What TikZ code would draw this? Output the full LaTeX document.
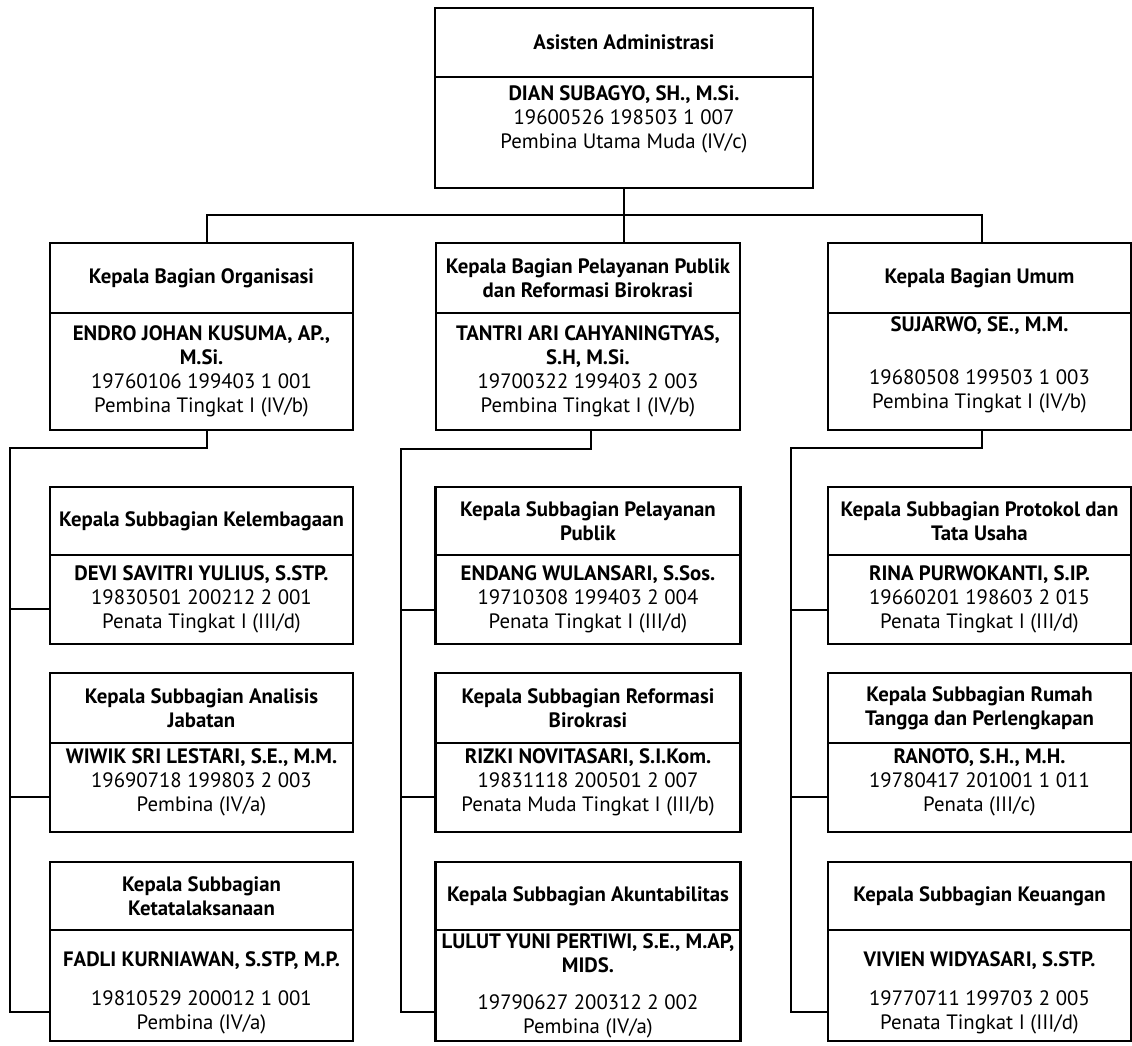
\documentclass[tikz,border=0pt]{standalone}
\usepackage{fontspec}
\setmainfont{PT Sans}
\usetikzlibrary{positioning}

\newcommand\toppad[1]{\rule{0pt}{#1}}
\newcommand\botpad[1]{\rule[-#1]{0pt}{#1}}

\begin{document}
\begin{tikzpicture}[x=1pt,y=1pt,
  box/.style={draw,line width=2.2pt,outer sep=0pt,inner sep=1pt,align=center,
              minimum width=303pt,font=\fontsize{20.8}{24}\selectfont},
  jabatan/.style={box,font=\fontsize{20.8}{24}\selectfont\bfseries},
  link/.style={line width=1.3pt}]

  \useasboundingbox (0,0) rectangle (1132,-1046);

  % asisten
  \node[jabatan,minimum width=378pt,minimum height=69pt] (asisten) at (624,-42.5)
    {Asisten Administrasi};
  \node[box,minimum width=378pt,minimum height=111pt] (asistenP) [below=0pt of asisten]
    {\textbf{DIAN SUBAGYO, SH., M.Si.}\\ 19600526 198503 1 007\\
     Pembina Utama Muda (IV/c)\botpad{30pt}};

  % kepala bagian
  \node[jabatan,minimum height=70pt] (org) at (201.5,-278) {Kepala Bagian Organisasi};
  \node[box,minimum height=117pt] (orgP) [below=0pt of org]
    {\textbf{ENDRO JOHAN KUSUMA, AP.,}\\ \textbf{M.Si.}\\ 19760106 199403 1 001\\
     Pembina Tingkat I (IV/b)};
  \node[jabatan,minimum width=304pt,minimum height=70pt] (pp) at (588,-278)
    {Kepala Bagian Pelayanan Publik\\ dan Reformasi Birokrasi};
  \node[box,minimum width=304pt,minimum height=117pt] (ppP) [below=0pt of pp]
    {\textbf{TANTRI ARI CAHYANINGTYAS,}\\ \textbf{S.H, M.Si.}\\ 19700322 199403 2 003\\
     Pembina Tingkat I (IV/b)};
  \node[jabatan,minimum height=70pt] (umum) at (979.5,-278) {Kepala Bagian Umum};
  \node[box,minimum height=117pt] (umumP) [below=0pt of umum]
    {\textbf{SUJARWO, SE., M.M.}\\[29pt] 19680508 199503 1 003\\
     Pembina Tingkat I (IV/b)\botpad{18pt}};

  % subbagian organisasi
  \node[jabatan,minimum height=68pt] (lembaga) [below=57pt of orgP]
    {Kepala Subbagian Kelembagaan};
  \node[box,minimum height=89pt] (lembagaP) [below=0pt of lembaga]
    {\textbf{DEVI SAVITRI YULIUS, S.STP.}\\ 19830501 200212 2 001\\
     Penata Tingkat I (III/d)};
  \node[jabatan,minimum height=70pt] (anjab) [below=29pt of lembagaP]
    {Kepala Subbagian Analisis\\ Jabatan};
  \node[box,minimum height=89pt] (anjabP) [below=0pt of anjab]
    {\textbf{WIWIK SRI LESTARI, S.E., M.M.}\\ 19690718 199803 2 003\\
     Pembina (IV/a)\botpad{15pt}};
  \node[jabatan,minimum height=68pt] (tatalaksana) [below=30pt of anjabP]
    {Kepala Subbagian\\ Ketatalaksanaan};
  \node[box,minimum height=111pt] (tatalaksanaP) [below=0pt of tatalaksana]
    {\toppad{30pt}\textbf{FADLI KURNIAWAN, S.STP, M.P.}\\[15pt] 19810529 200012 1 001\\
     Pembina (IV/a)};

  % subbagian pelayanan publik dan reformasi birokrasi
  \node[jabatan,minimum width=305pt,minimum height=68pt] (layan) [below=57pt of ppP]
    {Kepala Subbagian Pelayanan\\ Publik};
  \node[box,minimum width=305pt,minimum height=89pt] (layanP) [below=0pt of layan]
    {\textbf{ENDANG WULANSARI, S.Sos.}\\ 19710308 199403 2 004\\
     Penata Tingkat I (III/d)};
  \node[jabatan,minimum width=305pt,minimum height=70pt] (rb) [below=29pt of layanP]
    {Kepala Subbagian Reformasi\\ Birokrasi};
  \node[box,minimum width=305pt,minimum height=89pt] (rbP) [below=0pt of rb]
    {\textbf{RIZKI NOVITASARI, S.I.Kom.}\\ 19831118 200501 2 007\\
     Penata Muda Tingkat I (III/b)\botpad{15pt}};
  \node[jabatan,minimum width=305pt,minimum height=68pt] (akip) [below=30pt of rbP]
    {Kepala Subbagian Akuntabilitas};
  \node[box,minimum width=305pt,minimum height=111pt] (akipP) [below=0pt of akip]
    {\textbf{LULUT YUNI PERTIWI, S.E., M.AP,}\\ \textbf{MIDS.}\\[13pt] 19790627 200312 2 002\\
     Pembina (IV/a)};

  % subbagian umum
  \node[jabatan,minimum height=68pt] (protokol) [below=57pt of umumP]
    {Kepala Subbagian Protokol dan\\ Tata Usaha};
  \node[box,minimum height=89pt] (protokolP) [below=0pt of protokol]
    {\textbf{RINA PURWOKANTI, S.IP.}\\ 19660201 198603 2 015\\
     Penata Tingkat I (III/d)};
  \node[jabatan,minimum height=70pt] (rt) [below=29pt of protokolP]
    {Kepala Subbagian Rumah\\ Tangga dan Perlengkapan};
  \node[box,minimum height=89pt] (rtP) [below=0pt of rt]
    {\textbf{RANOTO, S.H., M.H.}\\ 19780417 201001 1 011\\
     Penata (III/c)\botpad{15pt}};
  \node[jabatan,minimum height=68pt] (keu) [below=30pt of rtP]
    {Kepala Subbagian Keuangan};
  \node[box,minimum height=111pt] (keuP) [below=0pt of keu]
    {\toppad{30pt}\textbf{VIVIEN WIDYASARI, S.STP.}\\[15pt] 19770711 199703 2 005\\
     Penata Tingkat I (III/d)};

  % garis
  \coordinate (bus)    at (624,-215);
  \coordinate (kiri)   at (10,-448);
  \coordinate (tengah) at (401,-449);
  \coordinate (kanan)  at (791,-448);

  \draw[link] (asistenP.south) -- (asistenP.south |- pp.north);
  \draw[link] ([xshift=5.5pt]org.north) |- (bus) -| ([xshift=2.5pt]umum.north);

  \draw[link] ([xshift=5.5pt]orgP.south) |- (kiri) |- ([yshift=-26.5pt]tatalaksanaP.west);
  \draw[link] ([yshift=-9.5pt]lembagaP.west) coordinate (k1) -- (k1 -| kiri);
  \draw[link] ([yshift=-9.5pt]anjabP.west) coordinate (k2) -- (k2 -| kiri);

  \draw[link] ([xshift=3pt]ppP.south) |- (tengah) |- ([yshift=-26.5pt]akipP.west);
  \draw[link] ([yshift=-10.5pt]layanP.west) coordinate (t1) -- (t1 -| tengah);
  \draw[link] ([yshift=-9.5pt]rbP.west) coordinate (t2) -- (t2 -| tengah);

  \draw[link] ([xshift=2.5pt]umumP.south) |- (kanan) |- ([yshift=-26.5pt]keuP.west);
  \draw[link] ([yshift=-10.5pt]protokolP.west) coordinate (r1) -- (r1 -| kanan);
  \draw[link] ([yshift=-9.5pt]rtP.west) coordinate (r2) -- (r2 -| kanan);
\end{tikzpicture}
\end{document}
